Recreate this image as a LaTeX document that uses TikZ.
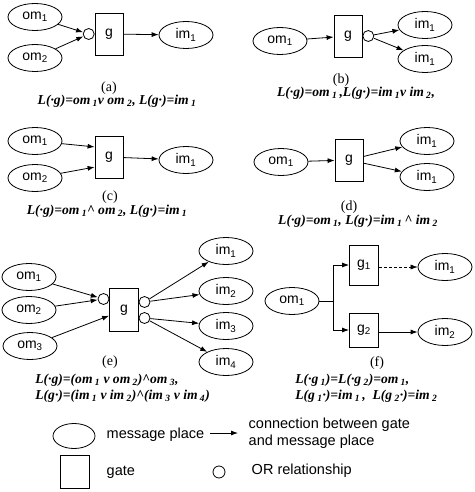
\documentclass[tikz,border=0pt]{standalone}
\usepackage{fontspec}
\setmainfont{Liberation Serif}
\setsansfont{Liberation Sans}
\usetikzlibrary{shapes.geometric,arrows.meta,positioning}
\tikzset{x=1pt, y=-1pt,
    every node/.style={font=\sffamily\fontsize{14}{14}\selectfont},
    msg/.style={draw, ellipse, minimum width=54pt, minimum height=27pt, inner sep=0pt},
    gatebox/.style={draw, minimum width=28pt, minimum height=42pt, inner sep=0pt},
    orc/.style={draw, circle, fill=white, minimum size=11pt, inner sep=0pt},
    arr/.style={-{Latex[length=7pt,width=5pt]}},
    sublabel/.style={inner sep=0pt, font=\rmfamily\fontsize{14}{14}\selectfont},
    formula/.style={inner sep=0pt, font=\rmfamily\bfseries\itshape\fontsize{13.6}{16}\selectfont, align=left},
    legtext/.style={anchor=west, align=left, font=\sffamily\fontsize{14.5}{16.5}\selectfont},
    }
\newcommand{\sub}[1]{\textsubscript{#1}}

\begin{document}
\begin{tikzpicture}[line width=0.8pt]
\useasboundingbox (0,0) rectangle (474,492);
% (a)
\node[msg] (om1a) at (35,17) {om\sub1};
\node[msg] (om2a) at (35,58) {om\sub2};
\node[gatebox] (ga) at (109,34) {g};
\node[orc, anchor=east] (ora) at (ga.west) {};
\node[msg] (im1a) at (186,35) {im\sub1};
\draw[arr] (om1a) -- (ora);
\draw[arr] (om2a) -- (ora);
\draw[arr] (ga) -- (im1a);
\node[sublabel] (laba) at (109,88) {(a)};
\node[formula] (fa) at (117,101) {L(·g)=om\,\sub1v om\,\sub2, L(g·)=im\,\sub1};
% (b)
\node[msg] (om1b) at (280,41) {om\sub1};
\node[gatebox] (gb) at (348,36) {g};
\node[orc, anchor=west] (orb) at (gb.east) {};
\node[msg] (im1b) at (425,25) {im\sub1};
\node[msg] (im2b) at (425,59) {im\sub1};
\draw[arr] (om1b) -- (gb);
\draw[arr] (orb) -- (im1b);
\draw[arr] (orb) -- (im2b);
\node[sublabel] (labb) at (341,80) {(b)};
\node[formula] (fb) at (356,93) {L(·g)=om\,\sub1\,,L(g·)=im\,\sub1v im\,\sub2,};
% (c)
\node[msg] (om1c) at (35,141) {om\sub1};
\node[msg] (om2c) at (35,178) {om\sub2};
\node[gatebox] (gc) at (109,157) {g};
\node[msg] (im1c) at (186,160) {im\sub1};
\draw[arr] (om1c) -- (gc.145);
\draw[arr] (om2c) -- (gc.215);
\draw[arr] (gc) -- (im1c);
\node[sublabel] (labc) at (110,197) {(c)};
\node[formula] (fc) at (107,211) {L(·g)=om\,\sub1\^{} om\,\sub2, L(g·)=im\,\sub1};
% (d)
\node[msg] (om1d) at (281,162) {om\sub1};
\node[gatebox] (gd) at (349,160) {g};
\node[msg] (im1d) at (427,141) {im\sub1};
\node[msg] (im2d) at (427,177) {im\sub1};
\draw[arr] (om1d) -- (gd);
\draw[arr] (gd) -- (im1d);
\draw[arr] (gd) -- (im2d);
\node[sublabel] (labd) at (349,207) {(d)};
\node[formula] (fd) at (358,221) {L(·g)=om\,\sub1, L(g·)=im\,\sub1\,\^{} im\,\sub2};
% (e)
\node[msg] (om1e) at (29,277) {om\sub1};
\node[msg] (om2e) at (29,310) {om\sub2};
\node[msg] (om3e) at (30,346) {om\sub3};
\node[gatebox, minimum width=29pt, minimum height=43pt] (ge) at (124,310) {g};
\node[orc] (orl) at (103.5,299) {};
\node[orc] (oru) at (144.5,302) {};
\node[orc] (ord) at (144.5,318) {};
\node[msg] (im1e) at (226,251) {im\sub1};
\node[msg] (im2e) at (226,291) {im\sub2};
\node[msg] (im3e) at (226,326) {im\sub3};
\node[msg] (im4e) at (226,362) {im\sub4};
\draw[arr] (om1e) -- (orl);
\draw[arr] (om2e) -- (orl);
\draw[arr] (om3e) -- (ge);
\foreach \o/\i in {oru/im1e, oru/im2e, ord/im3e, ord/im4e}
    \draw[arr] (\o) -- (\i);
\node[sublabel] (labe) at (110,362) {(e)};
\node[formula, anchor=west] (fe) at (35,388) {L(·g)=(om\,\sub1 v om\,\sub2)\^{}om\,\sub3,\\L(g·)=(im\,\sub1 v im\,\sub2)\^{}(im\,\sub3 v im\,\sub4)};
% (f)
\node[msg] (om1f) at (292,301) {om\sub1};
\node[gatebox, minimum width=29pt, minimum height=40pt] (g1f) at (364,265) {g\sub1};
\node[gatebox, minimum width=29pt, minimum height=34pt] (g2f) at (364,330) {g\sub2};
\node[msg] (im1f) at (445,267) {im\sub1};
\node[msg] (im2f) at (445,332) {im\sub2};
\coordinate (brf) at (333,301);
\draw (om1f) -- (brf);
\draw[arr] (brf) |- (g1f);
\draw[arr] (brf) |- (g2f);
\draw[arr, densely dashed, line width=0.5pt] (g1f.east |- im1f) -- (im1f);
\draw[arr] (g2f.east |- im2f) -- (im2f);
\node[sublabel] (labf) at (377,363) {(f)};
\node[formula, anchor=west] (ff) at (295,388) {L(·g\,\sub1)=L(·g\,\sub2)=om\,\sub1,\\L(g\,\sub1·)=im\,\sub1\,,\ \ L(g\,\sub2·)=im\,\sub2};
% legend
\node[msg, minimum width=42pt, minimum height=25pt] (legmsg) at (74,436) {};
\node[legtext] (legmsgt) at (103,435) {message place};
\coordinate (lega) at (210,433);
\coordinate (legb) at (238,433);
\draw[arr] (lega) -- (legb);
\node[legtext] (legcon) at (245,433) {connection between gate\\and message place};
\node[gatebox, minimum width=29pt, minimum height=33pt] (leggate) at (75,472) {};
\node[legtext] (leggatet) at (103,472) {gate};
\node[orc, minimum size=12pt] (legor) at (219,472) {};
\node[legtext] (legort) at (248,471) {OR relationship};
\end{tikzpicture}
\end{document}
